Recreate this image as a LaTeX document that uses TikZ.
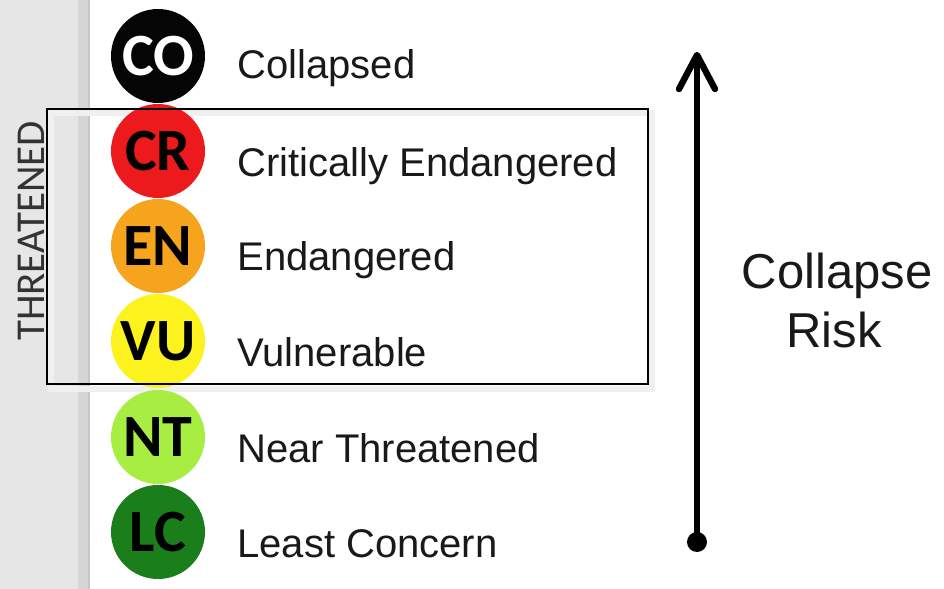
\documentclass[tikz,border=0pt]{standalone}
\usepackage{fontspec}
\setmainfont{Liberation Sans}
\newfontfamily\badgefont{Carlito}
\usetikzlibrary{calc}
\definecolor{cCO}{HTML}{050505}
\definecolor{cCR}{HTML}{EC1A1C}
\definecolor{cEN}{HTML}{F6A31E}
\definecolor{cVU}{HTML}{FCF21E}
\definecolor{cNT}{HTML}{A8EE42}
\definecolor{cLC}{HTML}{1A7F1A}
\definecolor{stripgray}{HTML}{E6E6E6}
\definecolor{stripedge}{HTML}{D6D6D6}
\tikzset{
  badge/.style={circle, minimum size=47pt, inner sep=0pt,
    font=\badgefont\bfseries\fontsize{30}{30}\selectfont},
  lab/.style={anchor=base west, inner sep=0pt,
    font=\fontsize{20}{24}\selectfont, text=black!90},
  risklab/.style={anchor=base, inner sep=0pt,
    font=\fontsize{24.5}{30}\selectfont, text=black!90},
  threatlab/.style={rotate=90, anchor=base, inner sep=0pt,
    font=\badgefont\fontsize{20.5}{20.5}\selectfont, text=black!80},
  threatbox/.style={draw=black, line width=1.4pt, inner sep=0pt,
    minimum width=300.5pt, minimum height=137.5pt},
  riskline/.style={line width=3pt},
}
\begin{document}
\begin{tikzpicture}[x=0.5pt,y=-0.5pt]
\useasboundingbox (0,0) rectangle (944,589);
\fill[white] (0,0) rectangle (944,589);
% grey side strip
\fill[stripgray] (0,0) rectangle (90,589);
\fill[stripedge] (78,0) rectangle (88,589);
\fill[black!22] (88,0) rectangle (90,589);
% soft shadow of the box
\draw[black!6, line width=3pt] (51,113) rectangle (652,389);
% badges
\node[badge, fill=cCO, text=white] (co) at (158,56) {CO};
\node[badge, fill=cCR, text=black] (cr) at (158,151) {CR};
\node[badge, fill=cEN, text=black] (en) at (158,246) {EN};
\node[badge, fill=cVU, text=black] (vu) at (158,341) {VU};
\node[badge, fill=cNT, text=black] (nt) at (158,437) {NT};
\node[badge, fill=cLC, text=black] (lc) at (158,532) {LC};
% labels
\node[lab] (lco) at (237,78) {Collapsed};
\node[lab] (lcr) at (237,176) {Critically Endangered};
\node[lab] (len) at (237,270) {Endangered};
\node[lab] (lvu) at (237,366) {Vulnerable};
\node[lab] (lnt) at (237,462) {Near Threatened};
\node[lab] (llc) at (237,557) {Least Concern};
% threatened box
\node[threatbox] (box) at (347.5,246.5) {};
\node[threatlab] (thr) at (45,231) {THREATENED};
% risk arrow
\coordinate (rbot) at (697,542);
\coordinate (rtop) at (697,55);
\draw[riskline] (rbot) -- ($(rtop)+(0,4)$);
\fill (rbot) circle (10);
\draw[line width=3.2pt, line cap=round, line join=round]
  ($(rtop)+(-18,34)$) -- (rtop) -- ($(rtop)+(18,34)$);
\node[risklab] (risk1) at (837,288) {Collapse};
\node[risklab] (risk2) at (834,347) {Risk};
\end{tikzpicture}
\end{document}
